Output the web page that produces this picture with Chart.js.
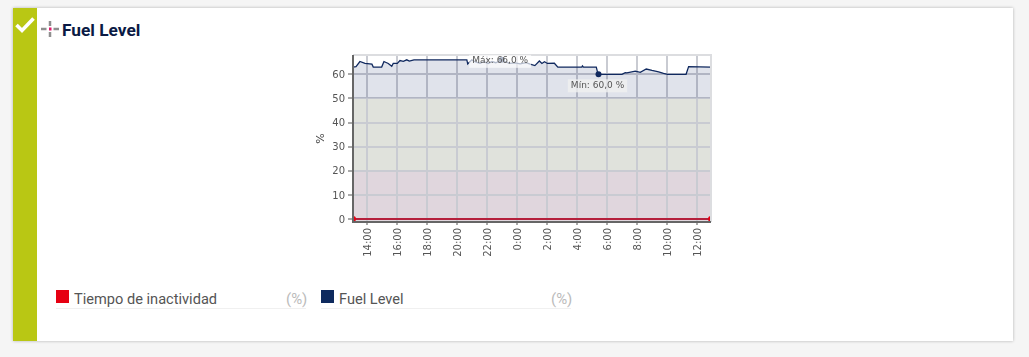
<!DOCTYPE html>
<html><head><meta charset="utf-8">
<script src="https://cdn.jsdelivr.net/npm/chart.js@4"></script>
<style>
html,body{margin:0;padding:0;background:#f5f5f5;width:1029px;height:357px;overflow:hidden;font-family:Roboto,sans-serif}
#card{position:absolute;left:13px;top:8px;width:1000px;height:333px;background:#fff;box-shadow:0 0 3px rgba(0,0,0,.28)}
#strip{position:absolute;left:13px;top:8px;width:24px;height:333px;background:#b9c714}
#title{position:absolute;left:62px;top:19px;font:700 17.300px/22px Roboto,sans-serif;color:#0a1a44}
#chartBox{position:absolute;left:310px;top:45px;width:410px;height:225px}
.sw{position:absolute;top:290px;width:13px;height:13px}
.lg{position:absolute;top:290px;font:14.600px/18px Roboto,sans-serif;color:#555}
.un{position:absolute;top:290px;font:15px/18px Roboto,sans-serif;color:#bbb}
.ul{position:absolute;top:308px;height:1px;background:#f0f0f0}
svg{position:absolute}
</style></head><body>
<div id="card"></div><div id="strip"></div>
<svg style="left:14px;top:15px" width="22" height="20"><path d="M2.500 10 L8 15.500 L19.500 3.500" fill="none" stroke="#fff" stroke-width="3.600"/></svg>
<svg style="left:41px;top:20px" width="18" height="18">
<g stroke="#8f8f8f" stroke-width="2.500"><path d="M9 1V6M9 12V17M0 9H5.500M12.500 9H18"/></g>
<rect x="8" y="7.500" width="2.500" height="3" fill="#e0186c"/></svg>
<div id="title">Fuel Level</div>
<div id="chartBox"><canvas id="c" width="410" height="225"></canvas></div>
<div class="sw" style="left:56px;background:#e60012"></div>
<div class="lg" style="left:74px" id="l1"></div><div class="un" style="left:286px">(%)</div><div class="ul" style="left:56px;width:250px"></div>
<div class="sw" style="left:321px;background:#0e2a5e"></div>
<div class="lg" style="left:339px" id="l2"></div><div class="un" style="left:551px">(%)</div><div class="ul" style="left:321px;width:250px"></div>
<script>
const fuelName = "Fuel Level";
const downName = "Tiempo de inactividad";
const unitName = "%";
const xMin = 13.09, xMax = 36.93, yMin = -1.2, yMax = 68;
const hours = [13.09,13.29,13.55,13.89,14.35,14.44,14.67,15.0,15.15,15.44,15.67,15.77,16.04,16.22,16.44,16.67,16.84,17.15,20.67,20.73,21.0,21.29,21.55,21.8,22.09,22.35,22.6,23.0,23.29,23.55,23.89,24.22,24.62,24.89,25.2,25.5,25.67,25.84,26.04,26.5,26.73,28.33,28.37,28.44,29.29,29.37,29.44,31.0,31.22,31.33,31.89,32.22,32.62,33.0,33.44,33.77,34.04,35.27,35.44,36.93];
const fuel  = [63,63.2,65.3,64.5,64.2,63,63,63,65.3,64.5,63.3,64.5,64.5,65.7,65.4,66,65.5,66,66,64.3,66,65,64.6,65.2,64.5,65.3,64.8,66,65,64.5,64.7,64.3,64.8,64.2,63.6,65.5,64.5,65.2,64.5,64.6,63,63,63.5,63,63,61,60,60,60.7,60.6,61.3,60.8,62.2,61.6,61,60.4,60,60,63.2,63];
const downHours = [13.09,36.93];
const downtime  = [0,0];
const xTickHours = [14,16,18,20,22,24,26,28,30,32,34,36];
const xTickLabels = ["14:00","16:00","18:00","20:00","22:00","0:00","2:00","4:00","6:00","8:00","10:00","12:00"];
const yTickValues = [0,10,20,30,40,50,60];
const bandLimits = [0,20,50];
const bandColors = ["#e0d6dd","#e0e2dc"];
const maxLabel = "Máx: 66,0 %";
const minLabel = "Mín: 60,0 %";
const maxAt = 23.0, minAt = 29.44;

document.getElementById('l1').textContent = downName;
document.getElementById('l2').textContent = fuelName;

const decor = {
  id:'decor',
  beforeDraw(ch){
    const {ctx,chartArea:a,scales:{y}} = ch;
    ctx.save();
    bandColors.forEach((col,i)=>{
      const top = y.getPixelForValue(bandLimits[i+1]);
      const bot = i===0 ? a.bottom : y.getPixelForValue(bandLimits[i]);
      ctx.fillStyle = col; ctx.fillRect(a.left,top,a.right-a.left,bot-top);
    });
    ctx.restore();
  },
  afterDatasetsDraw(ch){
    const {ctx,chartArea:a,scales:{x,y}} = ch;
    ctx.save();
    ctx.strokeStyle='#dcdde0'; ctx.lineWidth=2;
    ctx.beginPath(); ctx.moveTo(a.left,a.top); ctx.lineTo(a.right,a.top); ctx.lineTo(a.right,a.bottom); ctx.stroke();
    ctx.strokeStyle='#666';
    ctx.beginPath(); ctx.moveTo(a.left,a.top); ctx.lineTo(a.left,a.bottom); ctx.lineTo(a.right,a.bottom); ctx.stroke();
    ctx.font='9px "DejaVu Sans"'; ctx.textBaseline='middle';
    [[maxLabel,maxAt,66,1,-1.7,'rgba(255,255,255,.68)'],[minLabel,minAt,60,11,-1,'rgba(240,240,240,.8)']].forEach(([t,h,v,dy,dx,bg])=>{
      const px=x.getPixelForValue(h), py=y.getPixelForValue(v);
      ctx.fillStyle='#10295f'; ctx.beginPath(); ctx.arc(px,py,3,0,7); ctx.fill();
      const w=ctx.measureText(t).width, lx=px-w/2+dx, ly=py+dy;
      ctx.fillStyle=bg; ctx.fillRect(lx-3,ly-6,w+6,13);
      ctx.fillStyle='#555'; ctx.fillText(t,lx,ly);
    });
    ctx.restore();
  }
};
Chart.defaults.font.family='"DejaVu Sans"';
Chart.defaults.font.size=10;
new Chart(document.getElementById('c'),{
  type:'line',
  data:{datasets:[
    {label:fuelName,data:hours.map((h,i)=>({x:h,y:fuel[i]})),borderColor:'#10295f',borderWidth:1.300,pointRadius:0,tension:0,
     fill:{target:{value:50},above:'rgba(14,37,100,.13)',below:'rgba(0,0,0,0)'}},
    {label:downName,data:downHours.map((h,i)=>({x:h,y:downtime[i]})),borderColor:'#b5203c',borderWidth:2,pointRadius:3,pointBackgroundColor:'#e60012',pointBorderWidth:0,fill:false}
  ]},
  plugins:[decor],
  options:{
    responsive:false,animation:false,devicePixelRatio:1,
    layout:{padding:{top:10,right:9,left:0,bottom:0}},
    plugins:{legend:{display:false},tooltip:{enabled:false}},
    scales:{
      x:{type:'linear',min:xMin,max:xMax,
        afterBuildTicks(s){s.ticks=xTickHours.map(v=>({value:v}));},
        afterFit(s){s.height=48;},
        grid:{color:'#c9cbd2',lineWidth:2,tickColor:'#555',tickLength:3,tickWidth:1},
        border:{display:false},
        ticks:{minRotation:90,maxRotation:90,autoSkip:false,color:'#555',padding:3,labelOffset:1.500,
          callback(v){const i=xTickHours.indexOf(v);return i<0?'':xTickLabels[i];}}},
      y:{min:yMin,max:yMax,
        afterBuildTicks(s){s.ticks=yTickValues.map(v=>({value:v}));},
        afterFit(s){s.width=43;},
        title:{display:true,text:unitName,color:'#444',font:{size:11},padding:{top:5,bottom:0}},
        grid:{color:'#c9cbd2',lineWidth:2,tickColor:'#555',tickLength:5,tickWidth:1},
        border:{display:false},
        ticks:{color:'#555',padding:3,labelOffset:1}}
    }
  }
});
</script>
</body></html>
